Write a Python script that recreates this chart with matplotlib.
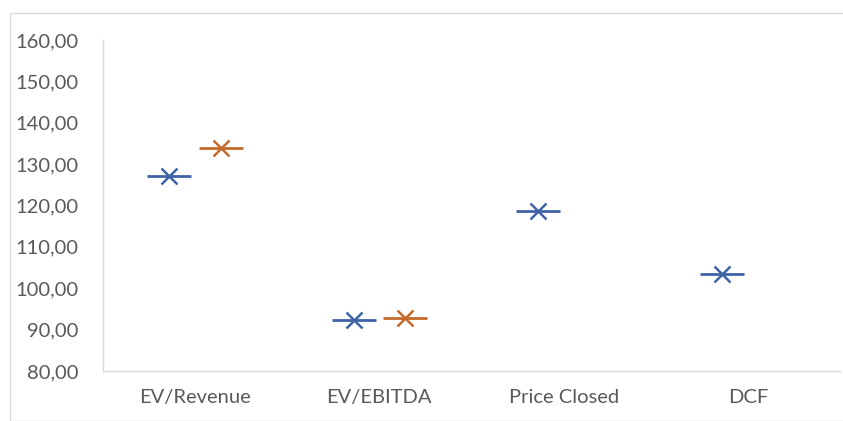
import matplotlib
matplotlib.use("Agg")
import matplotlib.pyplot as plt
from matplotlib.patches import Rectangle
from matplotlib.ticker import FuncFormatter, MultipleLocator

categories = ["EV/Revenue", "EV/EBITDA", "Price Closed", "DCF"]
series_a = [127.2, 92.3, 118.6, 103.5]
series_b = [133.9, 92.9, None, None]

blue = "#3E64A6"
orange = "#C46A2C"
grid_gray = "#D9D9D9"
text_gray = "#595959"

plt.rcParams["font.family"] = ["Lato", "DejaVu Sans"]

fig = plt.figure(figsize=(8.43, 4.21), dpi=100)
fig.patches.append(Rectangle((10 / 843, 0), 1.0, (421 - 13) / 421,
                             transform=fig.transFigure, fill=False,
                             edgecolor=grid_gray, linewidth=1.0))

ax = fig.add_axes([103 / 843, 50 / 421, (840 - 103) / 843, 331 / 421])

offset = 0.14
for i, v in enumerate(series_a):
    if v is not None:
        ax.plot(i - offset, v, marker="_", markersize=32, markeredgewidth=2.0,
                color=blue, linestyle="none")
        ax.plot(i - offset, v, marker="x", markersize=11, markeredgewidth=1.8,
                color=blue, linestyle="none")
for i, v in enumerate(series_b):
    if v is not None:
        ax.plot(i + offset, v, marker="_", markersize=32, markeredgewidth=2.0,
                color=orange, linestyle="none")
        ax.plot(i + offset, v, marker="x", markersize=11, markeredgewidth=1.8,
                color=orange, linestyle="none")

ax.set_xlim(-0.5, len(categories) - 0.5)
ax.set_ylim(80, 160)
ax.yaxis.set_major_locator(MultipleLocator(10))
ax.yaxis.set_major_formatter(FuncFormatter(lambda y, _: f"{y:.2f}".replace(".", ",")))
ax.set_xticks(range(len(categories)))
ax.set_xticklabels(categories)

for s in ("top", "right"):
    ax.spines[s].set_visible(False)
for s in ("left", "bottom"):
    ax.spines[s].set_color(grid_gray)
    ax.spines[s].set_linewidth(1.0)

ax.tick_params(axis="both", length=0, labelsize=14.5, colors=text_gray)
ax.tick_params(axis="y", pad=18)
ax.tick_params(axis="x", pad=13)

fig.savefig("out.png", dpi=100)
